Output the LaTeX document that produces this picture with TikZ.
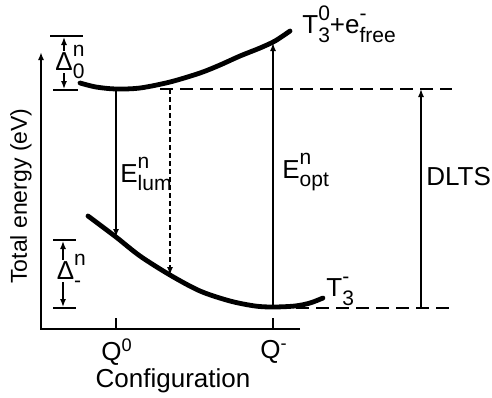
\documentclass[tikz,border=0pt]{standalone}
\usepackage{fontspec}
\setmainfont{Liberation Sans}
\usetikzlibrary{arrows.meta}

% superscript over subscript
\newcommand\supsub[2]{\rlap{\raisebox{1.0ex}{\fontsize{10.5}{11}\selectfont #1}}\raisebox{-0.6ex}{\fontsize{10.5}{11}\selectfont #2}}

\begin{document}
\begin{tikzpicture}[x=0.5pt,y=-0.5pt,>={Latex[length=4pt,width=3pt]},
  font=\fontsize{13}{15}\selectfont,
  thinline/.style={line width=0.7pt},
  pes/.style={line width=2.4pt,line cap=round},
  level/.style={line width=0.8pt,dash pattern=on 6.5pt off 3.5pt},
  bar/.style={line width=1pt}]

  \useasboundingbox (0,0) rectangle (492,397);

  % axes
  \draw[line width=0.9pt,->] (300,329) -- (41,329) -- (41,52);
  \foreach \q in {116,273}
    \draw[line width=0.9pt] (\q,329) -- (\q,318);
  \node (q0) at (117,352) {Q\textsuperscript{0}};
  \node (qm) at (274,352) {Q\textsuperscript{-}};
  \node (xlab) at (173,381) {Configuration};
  \node[rotate=90,font=\fontsize{11.5}{13}\selectfont] (ylab) at (21,196) {Total energy (eV)};

  % potential energy curves
  \draw[pes] plot[smooth] coordinates {(80,83) (96,87) (116,89) (140,88)
     (170,82) (200,73) (220,65) (240,56) (260,48) (275,41) (290,31)};
  \draw[pes] plot[smooth] coordinates {(88,216) (116,237) (140,256) (170,275)
     (200,291) (230,301) (255,306) (273,307) (295,306) (310,303) (323,298)};

  % levels
  \coordinate (up0) at (116,89);
  \coordinate (lo0) at (116,237);
  \coordinate (up1) at (170,89);
  \coordinate (lo1) at (170,275);
  \coordinate (up2) at (273,43);
  \coordinate (lo2) at (273,307);
  \coordinate (up3) at (421,89);
  \coordinate (lo3) at (421,308);
  \draw[level] (160,89) -- (452,89);
  \draw[level] (296,308) -- (452,308);

  % transitions
  \draw[thinline,->] (up0) -- (lo0);
  \draw[thinline,dash pattern=on 2.5pt off 1.5pt,->] (up1) -- (lo1);
  \draw[thinline,->] (lo2) -- (up2);
  \draw[thinline,->] (lo3) -- (up3);

  \node[anchor=west,inner sep=0pt] (elum) at (120,174) {E\supsub{n}{lum}};
  \node[anchor=west,inner sep=0pt] (eopt) at (282,172) {E\supsub{n}{opt}};
  \node[anchor=west,inner sep=0pt] (dlts) at (426,177) {DLTS};
  \node[anchor=west,inner sep=0pt] (t3p) at (302,24) {T\supsub{0}{3}+e\supsub{-}{free}};
  \node[anchor=west,inner sep=0pt] (t3m) at (326,291) {T\supsub{-}{3}};

  % relaxation energies
  \draw[bar] (50,36) -- (83,36);
  \draw[bar] (53,90) -- (78,90);
  \node[inner sep=1pt] (d0) at (70,62) {Δ\supsub{n}{0}};
  \draw[thinline,->] (64,51) -- (64,37);
  \draw[thinline,->] (64,73) -- (64,89);

  \draw[bar] (53,240) -- (76,240);
  \draw[bar] (53,308) -- (76,308);
  \node[inner sep=1pt] (dm) at (69,271) {Δ\supsub{n}{-}};
  \draw[thinline,->] (63,260) -- (63,241);
  \draw[thinline,->] (63,282) -- (63,307);

\end{tikzpicture}
\end{document}
